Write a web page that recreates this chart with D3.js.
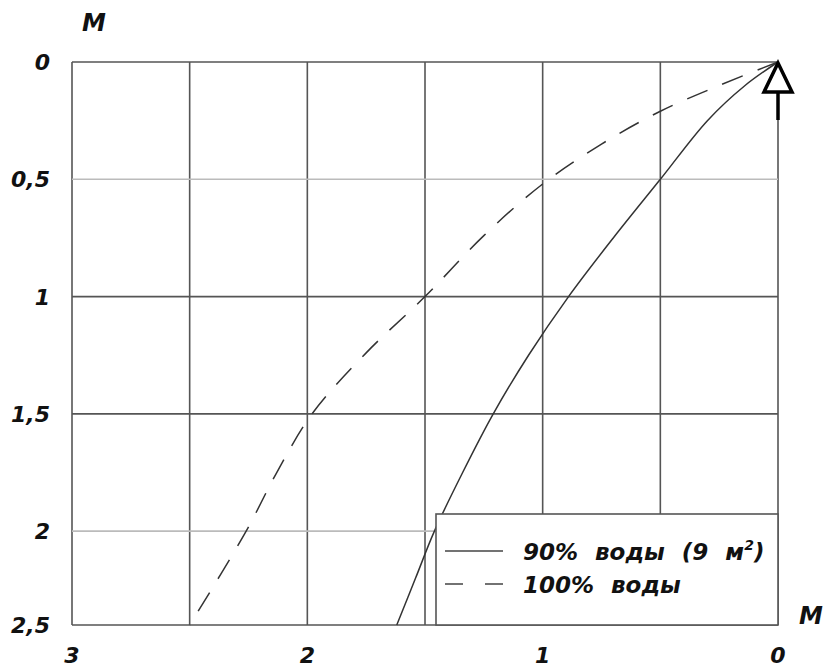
<!DOCTYPE html>
<html>
<head>
<meta charset="utf-8">
<script src="https://cdn.jsdelivr.net/npm/d3@7"></script>
<style>
  body { margin: 0; background: #fff; }
  text { font-family: "DejaVu Sans", sans-serif; font-style: italic; font-weight: bold; fill: #111; }
</style>
</head>
<body>
<script>
var W = 835, H = 668;

// data (x = distance, y = depth, both in metres)
var xTicks = [3, 2.5, 2, 1.5, 1, 0.5, 0];
var xLabels = [3, 2, 1, 0];
var yTicks = [0, 0.5, 1, 1.5, 2, 2.4];
var yLabels = ["0", "0,5", "1", "1,5", "2", "2,5"];
var darkRows = [1, 1.5];

var water90 = [
  {x: 0, y: 0}, {x: 0.14, y: 0.1}, {x: 0.3, y: 0.25}, {x: 0.5, y: 0.5},
  {x: 0.7, y: 0.75}, {x: 0.89, y: 1.0}, {x: 1.06, y: 1.25}, {x: 1.21, y: 1.5},
  {x: 1.34, y: 1.75}, {x: 1.46, y: 2.0}, {x: 1.54, y: 2.2}, {x: 1.62, y: 2.4}
];
var water100 = [
  {x: 0, y: 0}, {x: 0.25, y: 0.1}, {x: 0.5, y: 0.21}, {x: 0.75, y: 0.35},
  {x: 1.0, y: 0.52}, {x: 1.25, y: 0.74}, {x: 1.5, y: 1.0}, {x: 1.75, y: 1.24},
  {x: 1.98, y: 1.5}, {x: 2.13, y: 1.75}, {x: 2.26, y: 2.0}, {x: 2.5, y: 2.4}
];
var legendNames = ["90% воды (9 м", "100% воды"];

var margin = {top: 62, right: 57, bottom: 43, left: 72};
var width = W - margin.left - margin.right;
var height = H - margin.top - margin.bottom;

var svg = d3.select("body").append("svg")
    .attr("width", W)
    .attr("height", H);

var g = svg.append("g")
    .attr("transform", "translate(" + margin.left + "," + margin.top + ")");

var xScale = d3.scaleLinear().domain([3, 0]).range([0, width]);
var yScale = d3.scaleLinear().domain([0, 2.4]).range([0, height]);

// grid
g.selectAll("line.vgrid")
    .data(xTicks)
  .enter().append("line")
    .attr("class", "vgrid")
    .attr("x1", function(d){ return xScale(d); })
    .attr("x2", function(d){ return xScale(d); })
    .attr("y1", 0)
    .attr("y2", height)
    .style("stroke", "#555")
    .style("stroke-width", 1.6);

g.selectAll("line.hgrid")
    .data(yTicks)
  .enter().append("line")
    .attr("class", "hgrid")
    .attr("x1", 0)
    .attr("x2", width)
    .attr("y1", function(d){ return yScale(d); })
    .attr("y2", function(d){ return yScale(d); })
    .style("stroke", function(d, i){
      if (i == 0 || i == yTicks.length - 1 || darkRows.indexOf(d) >= 0) return "#555";
      return "#bbb";
    })
    .style("stroke-width", 1.6);

// axis labels
g.selectAll("text.ylab")
    .data(yTicks)
  .enter().append("text")
    .attr("class", "ylab")
    .attr("x", -22)
    .attr("y", function(d){ return yScale(d); })
    .attr("dy", "0.36em")
    .style("text-anchor", "end")
    .style("font-size", "22px")
    .text(function(d, i){ return yLabels[i]; });

g.selectAll("text.xlab")
    .data(xLabels)
  .enter().append("text")
    .attr("class", "xlab")
    .attr("x", function(d){ return xScale(d); })
    .attr("y", height + 38)
    .style("text-anchor", "middle")
    .style("font-size", "22px")
    .text(function(d){ return d; });

svg.append("text")
    .attr("x", 94).attr("y", 31)
    .style("text-anchor", "middle")
    .style("font-size", "24px")
    .text("М");

svg.append("text")
    .attr("x", 811).attr("y", 624)
    .style("text-anchor", "middle")
    .style("font-size", "24px")
    .text("М");

// curves
var line = d3.line()
    .x(function(d){ return xScale(d.x); })
    .y(function(d){ return yScale(d.y); })
    .curve(d3.curveCatmullRom.alpha(0.5));

g.append("path")
    .datum(water90)
    .attr("d", line)
    .style("fill", "none")
    .style("stroke", "#333")
    .style("stroke-width", 1.5);

g.append("path")
    .datum(water100)
    .attr("d", line)
    .style("fill", "none")
    .style("stroke", "#333")
    .style("stroke-width", 1.5)
    .style("stroke-dasharray", "22,16");

// arrow at origin
var ox = xScale(0), oy = yScale(0);
g.append("line")
    .attr("x1", ox).attr("x2", ox)
    .attr("y1", oy + 28).attr("y2", oy + 58)
    .style("stroke", "#000")
    .style("stroke-width", 3.5);
g.append("path")
    .attr("d", "M" + ox + "," + (oy + 1) + "L" + (ox - 14) + "," + (oy + 30) + "L" + (ox + 14) + "," + (oy + 30) + "Z")
    .style("fill", "#fff")
    .style("stroke", "#000")
    .style("stroke-width", 3.5)
    .style("stroke-linejoin", "miter");

// legend
var lx = 436 - margin.left, ly = 514 - margin.top;
g.append("rect")
    .attr("x", lx)
    .attr("y", ly)
    .attr("width", width - lx)
    .attr("height", height - ly)
    .style("fill", "#fff")
    .style("stroke", "#555")
    .style("stroke-width", 1.6);

var legG = g.selectAll("g.leg")
    .data(legendNames)
  .enter().append("g")
    .attr("class", "leg")
    .attr("transform", function(d, i){ return "translate(" + (lx + 9) + "," + (ly + 37 + i * 33) + ")"; });

legG.append("line")
    .attr("x1", 0).attr("x2", 58)
    .attr("y1", 0).attr("y2", 0)
    .style("stroke", "#444")
    .style("stroke-width", 1.3)
    .style("stroke-dasharray", function(d, i){ return i == 1 ? "18,22" : null; });

var legText = legG.append("text")
    .attr("x", 78)
    .attr("y", 9)
    .style("font-size", "23px")
    .style("word-spacing", "9px");
legText.append("tspan").text(function(d){ return d; });
legText.filter(function(d, i){ return i == 0; })
    .append("tspan").attr("dy", -10).style("font-size", "14px").text("2");
legText.filter(function(d, i){ return i == 0; })
    .append("tspan").attr("dy", 10).text(")");
</script>
</body>
</html>
